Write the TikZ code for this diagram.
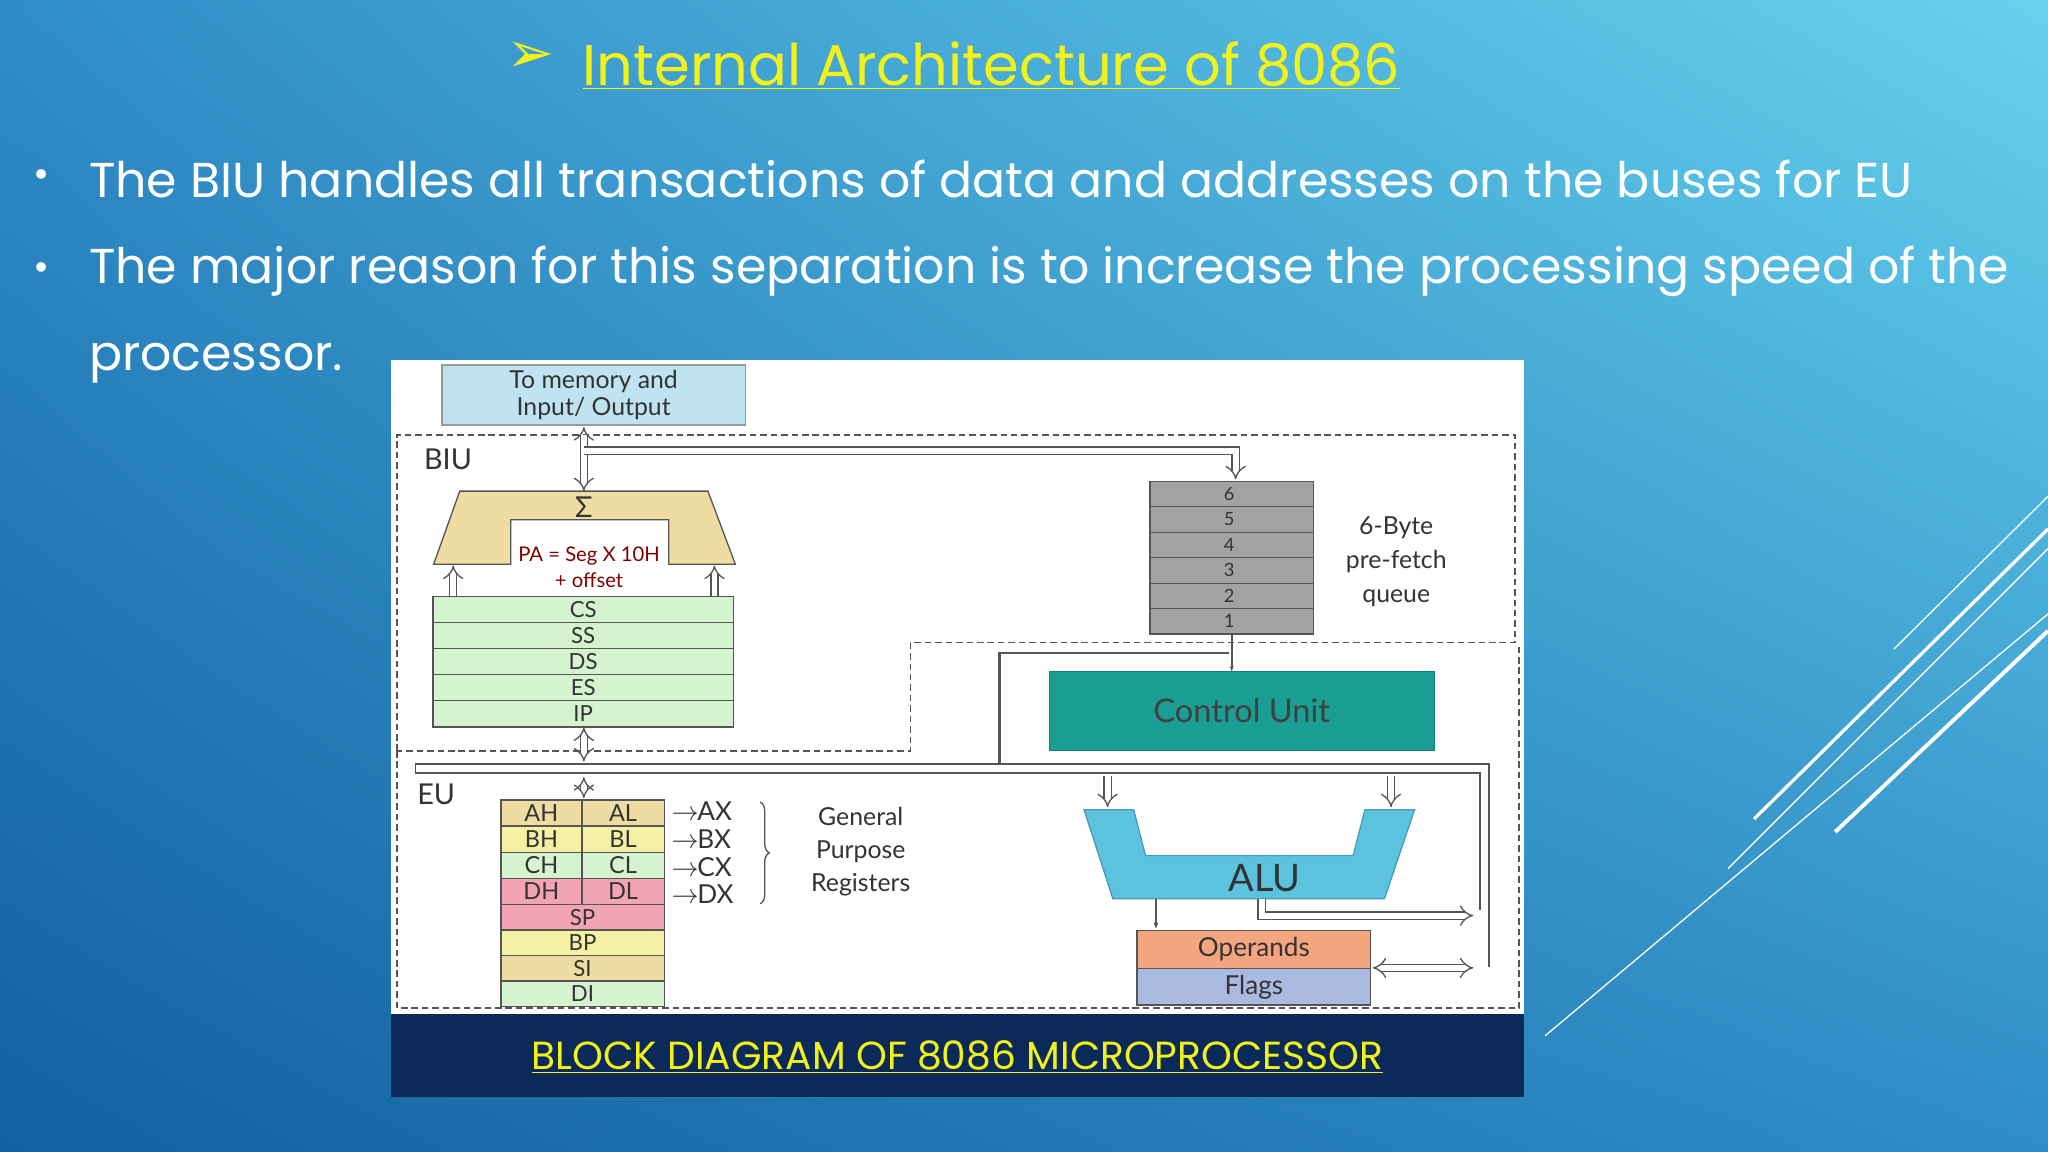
\documentclass[tikz,border=0pt]{standalone}
\usepackage{fontspec}
\setmainfont{Poppins}
\newfontfamily\dg{Lato}
\newfontfamily\djvfont{DejaVu Sans}
\usetikzlibrary{arrows.meta,decorations.pathreplacing,shadings}
\definecolor{bgA}{HTML}{14619F}
\definecolor{bgM}{HTML}{2F8CC6}
\definecolor{bgB}{HTML}{66D2EE}
\definecolor{ttl}{HTML}{F2F21A}
\definecolor{navy}{HTML}{0B2A5A}
\definecolor{tan}{HTML}{EEDCA2}
\definecolor{lgreen}{HTML}{D6F3CF}
\definecolor{lyel}{HTML}{F6F0A4}
\definecolor{pink}{HTML}{F2A4B4}
\definecolor{teal}{HTML}{1A9E94}
\definecolor{alu}{HTML}{5CC3DF}
\definecolor{oper}{HTML}{F2A57E}
\definecolor{flag}{HTML}{A9B9DF}
\definecolor{memb}{HTML}{BFE3F0}
\definecolor{qg}{HTML}{A2A2A2}
\definecolor{ln}{HTML}{555555}
\tikzset{
 reg/.style={draw=ln, line width=1pt, anchor=north west, inner sep=0pt, font=\dg\fontsize{15}{15}\selectfont, text=black!80},
 hol/.style={draw=ln, double=white, double distance=4.5pt, line width=1pt},
 dsh/.style={draw=ln, dashed, line width=1.3pt, dash pattern=on 5pt off 3pt},
 bul/.style={anchor=west, text=white, font=\fontsize{37.5}{37.5}\selectfont},
 dtext/.style={font=\dg\fontsize{17}{17}\selectfont, text=black!80, align=center},
 deco/.style={draw=white, line width=1pt}
}
\begin{document}
\begin{tikzpicture}[x=1pt,y=-1pt]
\shade[lower left=bgA, upper right=bgB, upper left=bgM, lower right=bgM] (0,0) rectangle (1568,882);
\useasboundingbox (0,0) rectangle (1568,882);
% decorative lines
\draw[deco] (1183,793) -- (1568,470);
\draw[deco] (1323,665) -- (1568,420);
\draw[deco, line width=2.5pt] (1343,627) -- (1568,405);
\draw[deco, line width=3pt] (1405,637) -- (1568,483);
\draw[deco] (1450,497) -- (1568,380);
% title
\node[text=ttl, font=\djvfont\fontsize{44}{44}\selectfont] (arr) at (406,44) {➢};
\node[anchor=west, text=ttl, font=\fontsize{44}{44}\selectfont, inner sep=0pt] (title) at (446,50) {\underline{Internal Architecture of 8086}};
\node[text=white, font=\fontsize{30}{30}\selectfont] (b1) at (32,137) {•};
\node[text=white, font=\fontsize{30}{30}\selectfont] (b2) at (32,208) {•};
\node[bul, inner sep=0pt] (t1) at (68,137) {The BIU handles all transactions of data and addresses on the buses for EU};
\node[bul, inner sep=0pt] (t2) at (68,208) {The major reason for this separation is to increase the processing speed of the};
\node[bul, inner sep=0pt] (t3) at (68,278) {processor.};
% panel
\fill[white] (299,276) rectangle (1167,776);
\fill[navy] (299,776) rectangle (1167,840);
\node[text=ttl, font=\fontsize{30}{30}\selectfont] (cap) at (733,809) {\underline{BLOCK DIAGRAM OF 8086 MICROPROCESSOR}};
% dashed regions
\draw[dsh] (304,575) -- (304,333) -- (1160,333) -- (1160,492) -- (697,492) -- (697,575) -- cycle;
\draw[dsh] (304,575) -- (304,772) -- (1163,772) -- (1163,492);
\node[dtext, font=\dg\fontsize{22}{22}\selectfont] (biu) at (343,352) {BIU};
\node[dtext, font=\dg\fontsize{22}{22}\selectfont] (eu) at (334,608) {EU};
% memory box
\node[draw=ln!60, fill=memb, line width=1pt, minimum width=232pt, minimum height=46pt, anchor=north west, dtext, font=\dg\fontsize{19}{21}\selectfont, inner sep=0pt] (mem) at (338,279) {To memory and\\Input/ Output};
% BIU bus
\draw[hol, {Implies}-{Implies}] (447,376) -- (447,327);
\draw[hol, -{Implies}] (447,345) -- (946,345) -- (946,367);
% sigma adder
\filldraw[fill=tan, draw=ln, line width=1pt] (352,376) -- (542,376) -- (563,432) -- (512,432) -- (512,398) -- (391,398) -- (391,432) -- (332,432) -- cycle;
\node[dtext, font=\dg\fontsize{22}{22}\selectfont] (sig) at (447,388) {Σ};
\node[text=red!50!black, font=\dg\fontsize{15.5}{20}\selectfont, align=center] (pa) at (451,434) {PA = Seg X 10H\\+ offset};
\draw[hol, -{Implies}] (347,456) -- (347,433);
\draw[hol, -{Implies}] (547,456) -- (547,433);
% segment registers
\foreach \n [count=\i from 0] in {CS,SS,DS,ES,IP}
  \node[reg, fill=lgreen, minimum width=230pt, minimum height=20pt, font=\dg\fontsize{17}{17}\selectfont] (s\n) at (331,456+20*\i) {\n};
% queue
\foreach \n [count=\i from 0] in {6,5,4,3,2,1}
  \node[reg, fill=qg, minimum width=125pt, minimum height=19.5pt, anchor=north west] (q\n) at (880,368+19.5*\i) {};
\foreach \n [count=\i from 0] in {6,5,4,3,2,1}
  \node[font=\dg\fontsize{14}{14}\selectfont, text=black!80] (ql\n) at (941,378+19.5*\i) {\n};
\node[dtext, font=\dg\fontsize{19}{26}\selectfont] (qlab) at (1069,430) {6-Byte\\pre-fetch\\queue};
% control unit
\node[fill=teal, draw=teal!80!black, minimum width=295pt, minimum height=60pt, anchor=north west, inner sep=0pt, font=\dg\fontsize{25}{25}\selectfont, text=black!75] (cu) at (803,514) {Control Unit};
\draw[ln, line width=1.5pt, -{Stealth[length=4pt]}] (q1.south) -- (q1.south |- cu.north);
\draw[ln, line width=2pt] (765,585) -- (765,500) -- (941,500);
% internal bus
\draw[ln, line width=1.2pt] (318,592) -- (318,585) -- (1140,585) -- (1140,740);
\draw[ln, line width=1.2pt] (318,592) -- (1133,592) -- (1133,697);
\draw[hol, {Implies}-{Implies}] (447,557) -- (447,583);
\draw[hol, {Implies}-{Implies}] (447,595) -- (447,611);
% ALU
\filldraw[fill=alu, draw=alu!80!black, line width=1pt] (830,620) -- (868,620) -- (877,655) -- (1036,655) -- (1045,620) -- (1083,620) -- (1060,688) -- (852,688) -- cycle;
\node[font=\dg\fontsize{29}{29}\selectfont, text=black!80] (alut) at (968,672) {ALU};
\draw[hol, -{Implies}] (848,594) -- (848,618);
\draw[hol, -{Implies}] (1065,594) -- (1065,618);
\draw[ln, line width=1.2pt, -{Stealth[length=5pt]}] (885,688) -- (885,711);
\draw[hol, -{Implies}] (966,688) -- (966,701) -- (1128,701);
% operands / flags
\node[reg, fill=oper, minimum width=179pt, minimum height=29pt, font=\dg\fontsize{20}{20}\selectfont] (op) at (870,712) {Operands};
\node[reg, fill=flag, minimum width=179pt, minimum height=28pt, font=\dg\fontsize{20}{20}\selectfont] (fl) at (870,741) {Flags};
\draw[hol, {Implies}-{Implies}] (1051,741) -- (1128,741);
% GP registers
\foreach \h/\l/\c [count=\i from 0] in {AH/AL/tan,BH/BL/lyel,CH/CL/lgreen,DH/DL/pink}{
  \node[reg, fill=\c, minimum width=62pt, minimum height=20pt, font=\dg\fontsize{18}{18}\selectfont] (r\h) at (383,612+20*\i) {\h};
  \node[reg, fill=\c, minimum width=63pt, minimum height=20pt, font=\dg\fontsize{18}{18}\selectfont] (r\l) at (445,612+20*\i) {\l};
}
\foreach \n/\c [count=\i from 0] in {SP/pink,BP/lyel,SI/tan,DI/lgreen}
  \node[reg, fill=\c, minimum width=125pt, minimum height=19.5pt, font=\dg\fontsize{17}{17}\selectfont] (r\n) at (383,692+19.5*\i) {\n};
\foreach \x [count=\i from 0] in {AX,BX,CX,DX}
  \node[anchor=west, font=\dg\fontsize{20}{20}\selectfont, text=black!80, inner sep=0pt] (l\x) at (514,621+21.3*\i) {$\rightarrow$\kern-1pt\x};
\draw[ln, line width=1pt, decorate, decoration={brace, amplitude=7pt}] (582,614) -- (582,692);
\node[dtext, font=\dg\fontsize{19}{25}\selectfont] (gp) at (659,652) {General\\Purpose\\Registers};
\end{tikzpicture}
\end{document}
